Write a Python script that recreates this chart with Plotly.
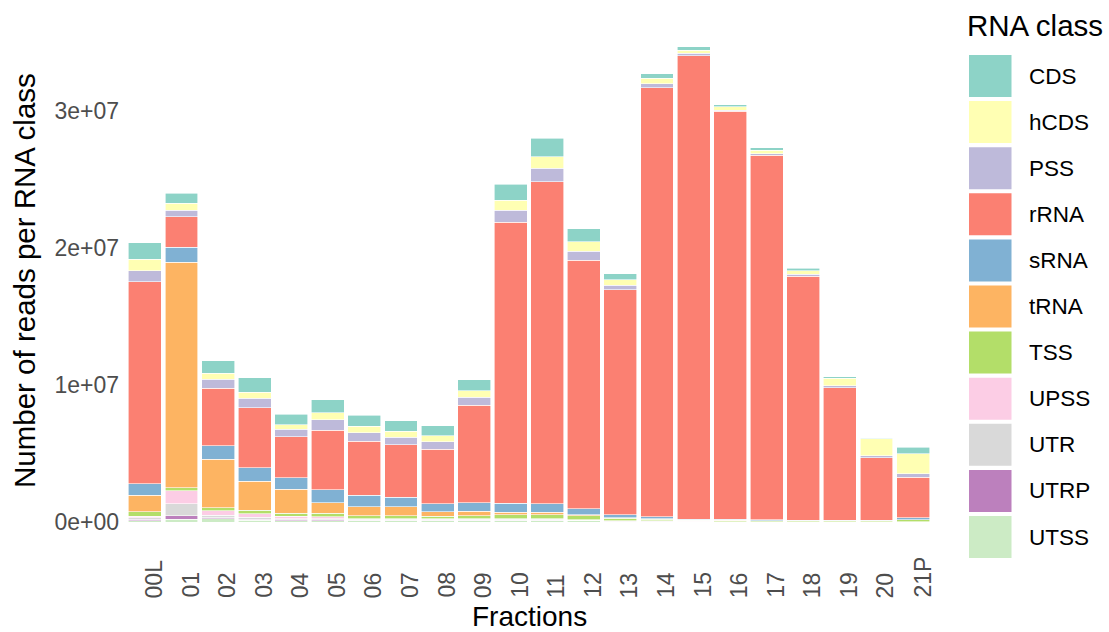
import plotly.graph_objects as go

# ---------------- data (reads per class, in millions) ----------------
fractions = ["00L", "01", "02", "03", "04", "05", "06", "07", "08", "09", "10",
             "11", "12", "13", "14", "15", "16", "17", "18", "19", "20", "21P"]

classes = ["CDS", "hCDS", "PSS", "rRNA", "sRNA", "tRNA", "TSS", "UPSS", "UTR", "UTRP", "UTSS"]
colors = ["#8DD3C7", "#FFFFB3", "#BEBADA", "#FB8072", "#80B1D3", "#FDB462",
          "#B3DE69", "#FCCDE5", "#D9D9D9", "#BC80BD", "#CCEBC5"]

CDS  = [1.19, 0.73, 0.92, 1.04, 0.75, 0.95, 0.80, 0.78, 0.75, 0.80, 1.17, 1.34, 0.98, 0.42, 0.36, 0.25, 0.17, 0.20, 0.17, 0.12, 0.07, 0.44]
hCDS = [0.82, 0.49, 0.42, 0.46, 0.34, 0.51, 0.46, 0.42, 0.42, 0.47, 0.73, 0.85, 0.68, 0.42, 0.39, 0.24, 0.22, 0.22, 0.24, 0.56, 1.24, 1.46]
PSS  = [0.83, 0.49, 0.66, 0.69, 0.56, 0.78, 0.61, 0.55, 0.55, 0.61, 0.85, 0.98, 0.66, 0.31, 0.29, 0.15, 0.10, 0.12, 0.17, 0.15, 0.12, 0.27]
rRNA = [14.70, 2.21, 4.21, 4.35, 2.99, 4.31, 3.97, 3.82, 3.99, 7.10, 20.48, 23.47, 18.12, 16.40, 31.26, 33.80, 29.75, 26.57, 17.76, 9.66, 4.58, 2.97]
sRNA = [0.85, 1.09, 0.97, 0.98, 0.82, 0.95, 0.82, 0.70, 0.56, 0.61, 0.66, 0.61, 0.42, 0.22, 0.17, 0.07, 0.07, 0.07, 0.05, 0.02, 0.02, 0.12]
tRNA = [1.22, 16.45, 3.55, 2.14, 1.77, 0.78, 0.64, 0.64, 0.34, 0.31, 0.20, 0.19, 0.07, 0.05, 0.03, 0.02, 0.01, 0.01, 0.01, 0.01, 0.01, 0.02]
TSS  = [0.31, 0.20, 0.22, 0.24, 0.20, 0.24, 0.22, 0.22, 0.18, 0.24, 0.29, 0.29, 0.29, 0.17, 0.10, 0.07, 0.07, 0.06, 0.05, 0.05, 0.05, 0.12]
UPSS = [0.12, 0.97, 0.31, 0.25, 0.17, 0.17, 0.07, 0.07, 0.05, 0.05, 0.05, 0.05, 0.03, 0.02, 0.02, 0.01, 0.01, 0.01, 0.01, 0.01, 0.01, 0.01]
UTR  = [0.12, 0.85, 0.17, 0.17, 0.10, 0.07, 0.05, 0.05, 0.05, 0.05, 0.05, 0.05, 0.03, 0.02, 0.02, 0.01, 0.01, 0.01, 0.01, 0.01, 0.01, 0.01]
UTRP = [0.10, 0.29, 0.10, 0.05, 0.07, 0.07, 0.05, 0.05, 0.05, 0.05, 0.05, 0.05, 0.03, 0.02, 0.02, 0.01, 0.01, 0.01, 0.01, 0.01, 0.01, 0.01]
UTSS = [0.10, 0.20, 0.24, 0.15, 0.10, 0.10, 0.10, 0.10, 0.10, 0.10, 0.10, 0.10, 0.10, 0.05, 0.05, 0.03, 0.02, 0.02, 0.02, 0.02, 0.02, 0.02]

series = [CDS, hCDS, PSS, rRNA, sRNA, tRNA, TSS, UPSS, UTR, UTRP, UTSS]
MILLION = 1e6

y_tickvals = [0, 1e7, 2e7, 3e7]
y_ticktext = ["0e+00", "1e+07", "2e+07", "3e+07"]

# ---------------- layout helpers (pixel -> paper) ----------------
W, H = 1109, 632
PL, PR, PT, PB = 123, 935, 23, 546
def px_x(x):
    return (x - PL) / (PR - PL)
def px_y(y):
    return (PB - y) / (PB - PT)

FONT = "Liberation Sans, Arial, sans-serif"
TICK_COLOR = "#4D4D4D"

fig = go.Figure()
# ggplot stacks first level on top -> add in reverse so CDS ends on top
for name, vals, col in reversed(list(zip(classes, series, colors))):
    fig.add_trace(go.Bar(
        x=fractions, y=[v * MILLION for v in vals], name=name,
        marker=dict(color=col, line=dict(color="white", width=0.6)),
        showlegend=False,
    ))

totals = [sum(s[i] for s in series) * MILLION for i in range(len(fractions))]
ymax = max(totals)

annotations = []
# x tick labels (rotated, bottom aligned as in the reference)
for f in fractions:
    annotations.append(dict(
        x=f, xref="x", y=px_y(600), yref="paper", text=f, textangle=-90,
        showarrow=False, xanchor="center", yanchor="bottom", xshift=9,
        font=dict(family=FONT, size=23, color=TICK_COLOR),
    ))
# axis titles
annotations.append(dict(
    x=px_x(529), y=px_y(616), xref="paper", yref="paper", text="Fractions",
    showarrow=False, xanchor="center", yanchor="middle",
    font=dict(family=FONT, size=28, color="black"),
))
annotations.append(dict(
    x=px_x(24), y=px_y(281), xref="paper", yref="paper",
    text="Number of reads per RNA class", textangle=-90,
    showarrow=False, xanchor="center", yanchor="middle",
    font=dict(family=FONT, size=29.5, color="black"),
))
# legend title
annotations.append(dict(
    x=px_x(965), y=px_y(26), xref="paper", yref="paper", text="RNA class",
    showarrow=False, xanchor="left", yanchor="middle",
    font=dict(family=FONT, size=29.5, color="black"),
))

shapes = []
KEY_TOP, KEY_STEP, KEY_H = 55, 46.1, 42
for i, (name, col) in enumerate(zip(classes, colors)):
    top = KEY_TOP + KEY_STEP * i
    shapes.append(dict(
        type="rect", xref="paper", yref="paper",
        x0=px_x(969), x1=px_x(1011.5), y0=px_y(top + KEY_H), y1=px_y(top),
        fillcolor=col, line=dict(width=0),
    ))
    annotations.append(dict(
        x=px_x(1027), y=px_y(top + KEY_H / 2), xref="paper", yref="paper",
        text=name, showarrow=False, xanchor="left", yanchor="middle",
        font=dict(family=FONT, size=22.5, color="black"),
    ))

fig.update_layout(
    width=W, height=H,
    margin=dict(l=PL, r=W - PR, t=PT, b=H - PB),
    paper_bgcolor="white", plot_bgcolor="white",
    barmode="stack", bargap=0.1,
    font=dict(family=FONT, size=22, color=TICK_COLOR),
    annotations=annotations, shapes=shapes,
    showlegend=False,
    xaxis=dict(
        type="category", categoryorder="array", categoryarray=fractions,
        range=[-0.6, len(fractions) - 0.4],
        showticklabels=False, showgrid=False, zeroline=False, showline=False, ticks="",
    ),
    yaxis=dict(
        range=[-0.05 * ymax, 1.05 * ymax],
        tickvals=y_tickvals, ticktext=y_ticktext,
        tickfont=dict(family=FONT, size=23, color=TICK_COLOR),
        ticklabelstandoff=3,
        showgrid=False, zeroline=False, showline=False, ticks="",
    ),
)

fig.write_html(
    "out.html",
    config={"displayModeBar": False},
    post_script="document.body.style.margin='0px';document.body.style.overflow='hidden';",
)
